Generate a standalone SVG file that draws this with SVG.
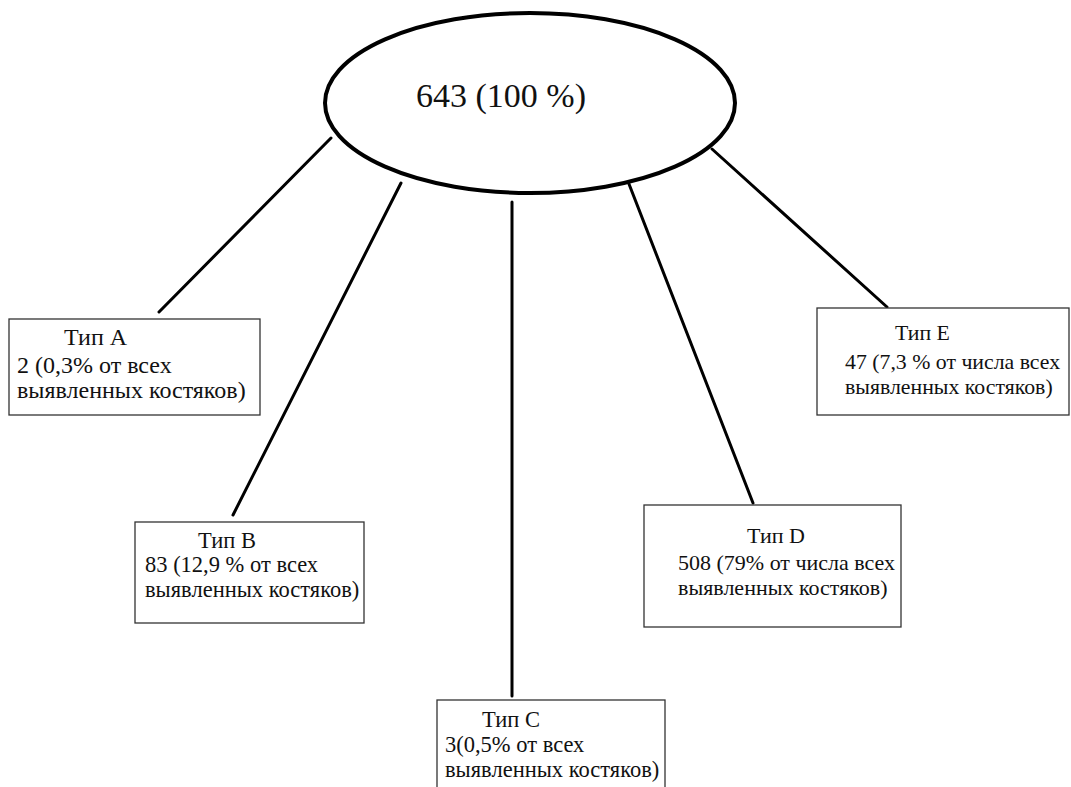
<svg xmlns="http://www.w3.org/2000/svg" width="1071" height="787" viewBox="0 0 1071 787">
<style>
.box{fill:#fff;stroke:#333;stroke-width:1.3}
.t{font-family:'Liberation Serif','DejaVu Serif','Noto Serif',serif;font-size:22.5px;fill:#111}
.big{font-family:'Liberation Serif','DejaVu Serif','Noto Serif',serif;font-size:34px;fill:#111}
.ln{stroke:#000;stroke-width:3;stroke-linecap:round}
</style>
<rect width="1071" height="787" fill="#fff"/>
<g id="connectors">
<line class="ln" x1="331" y1="138" x2="159" y2="312"/>
<line class="ln" x1="401" y1="183" x2="233" y2="515"/>
<line class="ln" x1="512" y1="202" x2="512" y2="696"/>
<line class="ln" x1="629" y1="184" x2="753" y2="503"/>
<line class="ln" x1="712" y1="149" x2="887" y2="307"/>
</g>
<g id="root">
<ellipse cx="530" cy="103" rx="205" ry="90" fill="#fff" stroke="#000" stroke-width="4"/>
<text class="big" x="416" y="107">643 (100 %)</text>
</g>
<g id="typeA">
<rect class="box" x="9" y="319" width="251" height="96"/>
<text class="t" x="64" y="345" style="font-size:24px">Тип A</text>
<text class="t" x="17" y="373" style="font-size:24px">2 (0,3% от всех</text>
<text class="t" x="17" y="398" style="font-size:24px">выявленных костяков)</text>
</g>
<g id="typeB">
<rect class="box" x="135" y="522" width="229" height="101"/>
<text class="t" x="198" y="548">Тип В</text>
<text class="t" x="145" y="572">83 (12,9 % от всех</text>
<text class="t" x="145" y="597">выявленных костяков)</text>
</g>
<g id="typeC">
<rect class="box" x="437" y="700" width="228" height="100"/>
<text class="t" x="482" y="727">Тип С</text>
<text class="t" x="445" y="752">3(0,5% от всех</text>
<text class="t" x="445" y="777">выявленных костяков)</text>
</g>
<g id="typeD">
<rect class="box" x="644" y="505" width="257" height="122"/>
<text class="t" x="747" y="543" style="font-size:22px">Тип D</text>
<text class="t" x="678" y="570" style="font-size:22px">508 (79% от числа всех</text>
<text class="t" x="678" y="595" style="font-size:22px">выявленных костяков)</text>
</g>
<g id="typeE">
<rect class="box" x="817" y="308" width="252" height="107"/>
<text class="t" x="895" y="340" style="font-size:21.8px">Тип Е</text>
<text class="t" x="845" y="369" style="font-size:21.8px">47 (7,3 % от числа всех</text>
<text class="t" x="845" y="394" style="font-size:21.8px">выявленных костяков)</text>
</g>
</svg>
